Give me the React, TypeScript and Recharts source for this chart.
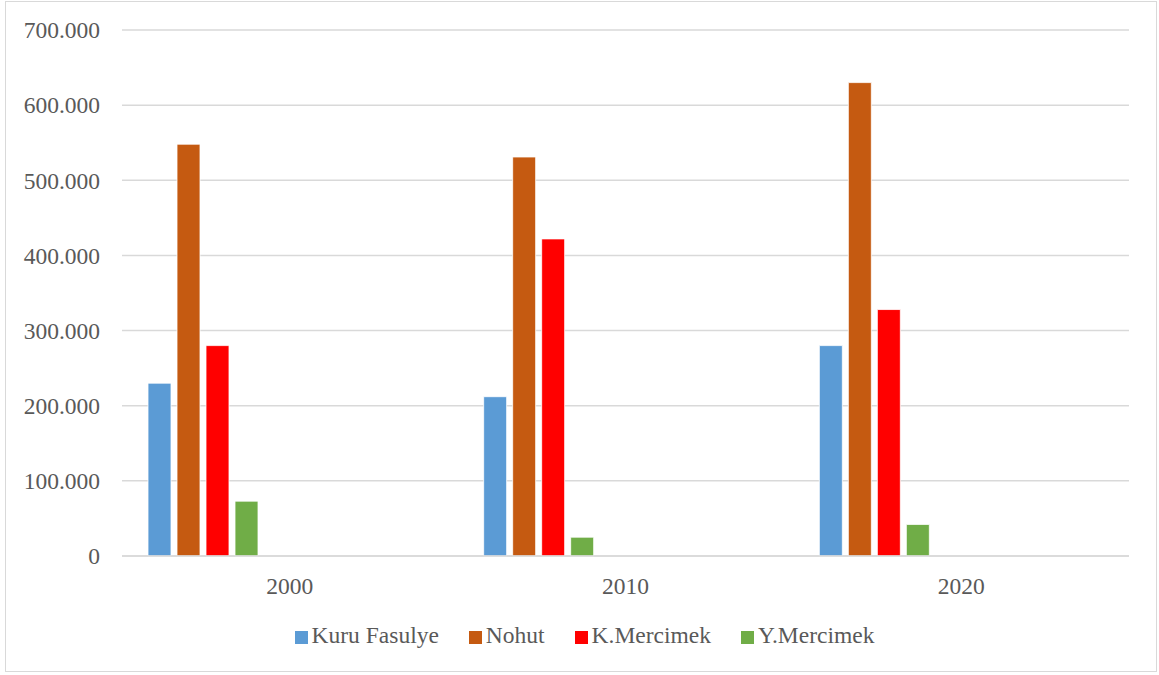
import { BarChart, Bar, XAxis, YAxis, CartesianGrid } from "recharts";

// Production by year (tonnes)
const years = ["2000", "2010", "2020"];
const kuruFasulye = [230000, 212000, 280000];
const nohut = [548000, 531000, 630000];
const kMercimek = [280000, 422000, 328000];
const yMercimek = [73000, 25000, 42000];

const seriesNames = ["Kuru Fasulye", "Nohut", "K.Mercimek", "Y.Mercimek"];
const seriesValues = [kuruFasulye, nohut, kMercimek, yMercimek];
const seriesColors = ["#5b9bd5", "#c55a11", "#ff0000", "#70ad47"];

// the source sheet has six more (blank) series columns; they keep their slots in each group
const blankSeries = ["b5", "b6", "b7", "b8", "b9", "b10"];

const yTicks = [0, 100000, 200000, 300000, 400000, 500000, 600000, 700000];

const rows = years.map((year, i) => {
  const row: Record<string, string | number> = { year };
  seriesNames.forEach((name, s) => {
    row[name] = seriesValues[s][i];
  });
  return row;
});

const FONT = '"Liberation Serif", "Times New Roman", serif';
const TEXT = "#595959";
const GRID = "#d9d9d9";

const fmt = (v: number) => String(v).replace(/\B(?=(\d{3})+(?!\d))/g, ".");

export default function App() {
  return (
    <div
      style={{
        position: "absolute",
        left: 0,
        top: 0,
        width: 1159,
        height: 675,
        background: "#fff",
        fontFamily: FONT,
      }}
    >
      <div
        style={{
          position: "absolute",
          left: 5,
          top: 1,
          width: 1150,
          height: 669,
          border: `1.5px solid ${GRID}`,
        }}
      />
      <div style={{ position: "absolute", left: 0, top: 0 }}>
        <BarChart
          width={1159}
          height={675}
          data={rows}
          margin={{ top: 30, right: 30, bottom: 89, left: 0 }}
          barSize={23}
          barGap={6}
        >
          <CartesianGrid vertical={false} stroke={GRID} strokeWidth={1.5} />
          <XAxis
            dataKey="year"
            height={30}
            axisLine={{ stroke: GRID, strokeWidth: 1.5 }}
            tickLine={false}
            tickMargin={15}
            tick={{ fill: TEXT, fontSize: 23.5, fontFamily: FONT }}
          />
          <YAxis
            width={122}
            domain={[0, 700000]}
            ticks={yTicks}
            interval={0}
            axisLine={false}
            tickLine={false}
            tickMargin={16}
            tickFormatter={fmt}
            tick={{ fill: TEXT, fontSize: 23.5, fontFamily: FONT }}
          />
          {seriesNames.map((name, s) => (
            <Bar
              key={name}
              dataKey={name}
              fill={seriesColors[s]}
              stroke="#ffffff"
              strokeWidth={0.8}
              isAnimationActive={false}
            />
          ))}
          {blankSeries.map((key) => (
            <Bar key={key} dataKey={key} legendType="none" isAnimationActive={false} />
          ))}
        </BarChart>
      </div>
      <div
        style={{
          position: "absolute",
          left: 0,
          top: 624,
          width: 1159,
          paddingLeft: 10,
          boxSizing: "border-box",
          display: "flex",
          justifyContent: "center",
          alignItems: "center",
          gap: 30,
          fontSize: 23.5,
          lineHeight: 1,
          color: TEXT,
        }}
      >
        {seriesNames.map((name, s) => (
          <div key={name} style={{ display: "flex", alignItems: "center", gap: 4 }}>
            <span style={{ width: 13, height: 13, background: seriesColors[s], marginTop: 3 }} />
            <span>{name}</span>
          </div>
        ))}
      </div>
    </div>
  );
}
